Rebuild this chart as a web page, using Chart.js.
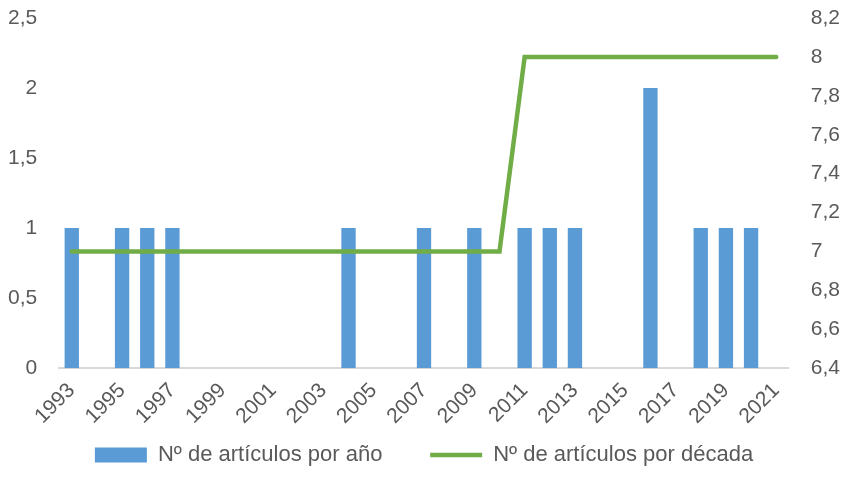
<!DOCTYPE html>
<html>
<head>
<meta charset="utf-8">
<script src="https://cdn.jsdelivr.net/npm/chart.js@4"></script>
<style>
  body { margin: 0; background: #fff; }
  #wrap { width: 849px; height: 490px; }
</style>
</head>
<body>
<div id="wrap"><canvas id="articulosChart"></canvas></div>
<script>
const years = ["1993", "1994", "1995", "1996", "1997", "1998", "1999", "2000", "2001", "2002",
  "2003", "2004", "2005", "2006", "2007", "2008", "2009", "2010", "2011", "2012",
  "2013", "2014", "2015", "2016", "2017", "2018", "2019", "2020", "2021"];
const porAnio = [1, 0, 1, 1, 1, 0, 0, 0, 0, 0, 0, 1, 0, 0, 1, 0, 1, 0, 1, 1, 1, 0, 0, 2, 0, 1, 1, 1, 0];
const porDecada = [7, 7, 7, 7, 7, 7, 7, 7, 7, 7, 7, 7, 7, 7, 7, 7, 7, 7, 8, 8, 8, 8, 8, 8, 8, 8, 8, 8, 8];

const color = {
  Blue: "#5b9bd5",
  Green: "#70ad47",
  Text: "#595959",
  Axis: "#d9d9d9",
};

function comma(v) {
  return String(Math.round(v * 10) / 10).replace(".", ",");
}

// the tick padding is meant for the side gap only, not for the top/bottom overhang
function trimPadding(scale) {
  scale.paddingTop = 12;
  scale.paddingBottom = 12;
}

Chart.defaults.font.family = "'Liberation Sans', 'DejaVu Sans', sans-serif";
Chart.defaults.color = color.Text;

const articulosChartData = {
  labels: years,
  datasets: [
    {
      type: "bar",
      label: "Nº de artículos por año",
      data: porAnio,
      backgroundColor: color.Blue,
      borderWidth: 0,
      yAxisID: "y",
      barPercentage: 0.57,
      categoryPercentage: 1,
      order: 2,
    },
    {
      type: "line",
      label: "Nº de artículos por década",
      data: porDecada,
      borderColor: color.Green,
      backgroundColor: color.Green,
      borderWidth: 4.5,
      borderCapStyle: "round",
      pointRadius: 0,
      tension: 0,
      yAxisID: "y1",
      order: 1,
    },
  ],
};

const articulosChartConfig = {
  data: articulosChartData,
  options: {
    responsive: true,
    maintainAspectRatio: false,
    animation: false,
    layout: { padding: { left: -14, right: -13, top: 18, bottom: 14 } },
    plugins: {
      legend: {
        position: "bottom",
        labels: {
          font: { size: 22 },
          usePointStyle: true,
          pointStyleWidth: 52,
          boxHeight: 15,
          padding: 5,
          generateLabels: (chart) => {
            return chart.data.datasets.map((ds, i) => ({
              // trailing spaces only widen the gap between the two legend items
              text: i == 0 ? ds.label + "       " : ds.label,
              datasetIndex: i,
              fillStyle: ds.type == "bar" ? color.Blue : color.Green,
              strokeStyle: ds.type == "bar" ? color.Blue : color.Green,
              lineWidth: ds.type == "bar" ? 0 : 4.5,
              pointStyle: ds.type == "bar" ? "rect" : "line",
              fontColor: color.Text,
            }));
          },
        },
      },
      tooltip: { enabled: false },
    },
    scales: {
      x: {
        grid: { display: false, drawTicks: false },
        border: { color: color.Axis, width: 2 },
        ticks: {
          autoSkip: false,
          maxRotation: 45,
          minRotation: 45,
          padding: 10,
          font: { size: 21 },
          callback: (v, i) => (i % 2 == 0 ? years[i] : ""),
        },
      },
      y: {
        position: "left",
        min: 0,
        max: 2.5,
        afterFit: trimPadding,
        grid: { display: false, drawTicks: false },
        border: { display: false },
        ticks: {
          stepSize: 0.5,
          padding: 22,
          font: { size: 21 },
          callback: (v) => comma(v),
        },
      },
      y1: {
        position: "right",
        min: 6.4,
        max: 8.2,
        afterFit: trimPadding,
        grid: { display: false, drawTicks: false },
        border: { display: false },
        ticks: {
          stepSize: 0.2,
          padding: 22,
          font: { size: 21 },
          callback: (v) => comma(v),
        },
      },
    },
  },
};

const articulosChart = new Chart(document.getElementById("articulosChart"), articulosChartConfig);
</script>
</body>
</html>
